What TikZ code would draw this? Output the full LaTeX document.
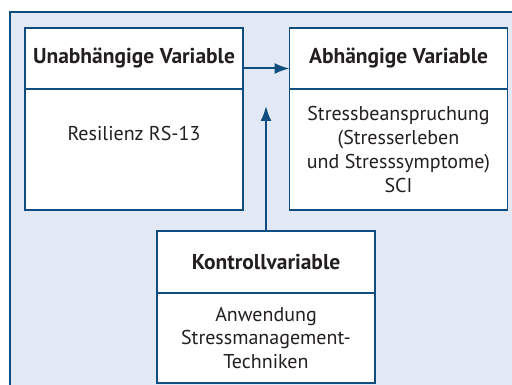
\documentclass[tikz,border=0pt]{standalone}
\usepackage{fontspec}
\setmainfont{PT Sans}
\usetikzlibrary{positioning}
\usetikzlibrary{arrows.meta}
\definecolor{frameblue}{HTML}{0F4C7F}
\definecolor{panelblue}{HTML}{E2E9F5}
\definecolor{textgray}{HTML}{231F20}
\tikzset{>=latex}
\tikzstyle{headbox} = [rectangle, draw=frameblue, fill=white, line width=1.2pt, minimum width=218pt, minimum height=61pt, inner sep=0pt, outer sep=0pt, text=textgray, font=\bfseries\fontsize{21.5}{24}\selectfont]
\tikzstyle{bodybox} = [rectangle, draw=frameblue, fill=white, line width=1.2pt, minimum width=218pt, minimum height=121pt, inner sep=0pt, outer sep=0pt, text=textgray, align=center, font=\fontsize{20}{23.7}\selectfont]
\tikzstyle{flow} = [-{Latex[length=15pt,width=11pt]}, draw=frameblue, line width=2pt]

\begin{document}
\begin{tikzpicture}[x=1pt, y=1pt]
\useasboundingbox (0,0) rectangle (512,385);
\fill [panelblue] (10,-10) rectangle (530,373);
\draw [frameblue, line width=1.2pt] (10,-10) -- (10,373) -- (530,373);
\node [headbox] (UV) at (134, 326.5) {Unabhängige Variable};
\node [bodybox, below=0pt of UV, text height=52pt, text depth=69pt] (UVbody) {Resilienz RS-13};
\node [headbox] (AV) at (398.5, 326.5) {Abhängige Variable};
\node [bodybox, below=0pt of AV] (AVbody) {Stressbeanspruchung\\(Stresserleben\\und Stresssymptome)\\SCI};
\node [headbox, minimum height=62pt] (KV) at (266, 123) {Kontrollvariable};
\node [bodybox, below=0pt of KV, minimum height=90pt] (KVbody) {Anwendung\\Stressmanagement-\\Techniken};
\coordinate (KVtip) at (266, 279);
\draw [flow] ([yshift=-10pt]UV.east) to ([yshift=-10pt]AV.west);
\draw [flow] (KV.north) to (KVtip);
\end{tikzpicture}
\end{document}
